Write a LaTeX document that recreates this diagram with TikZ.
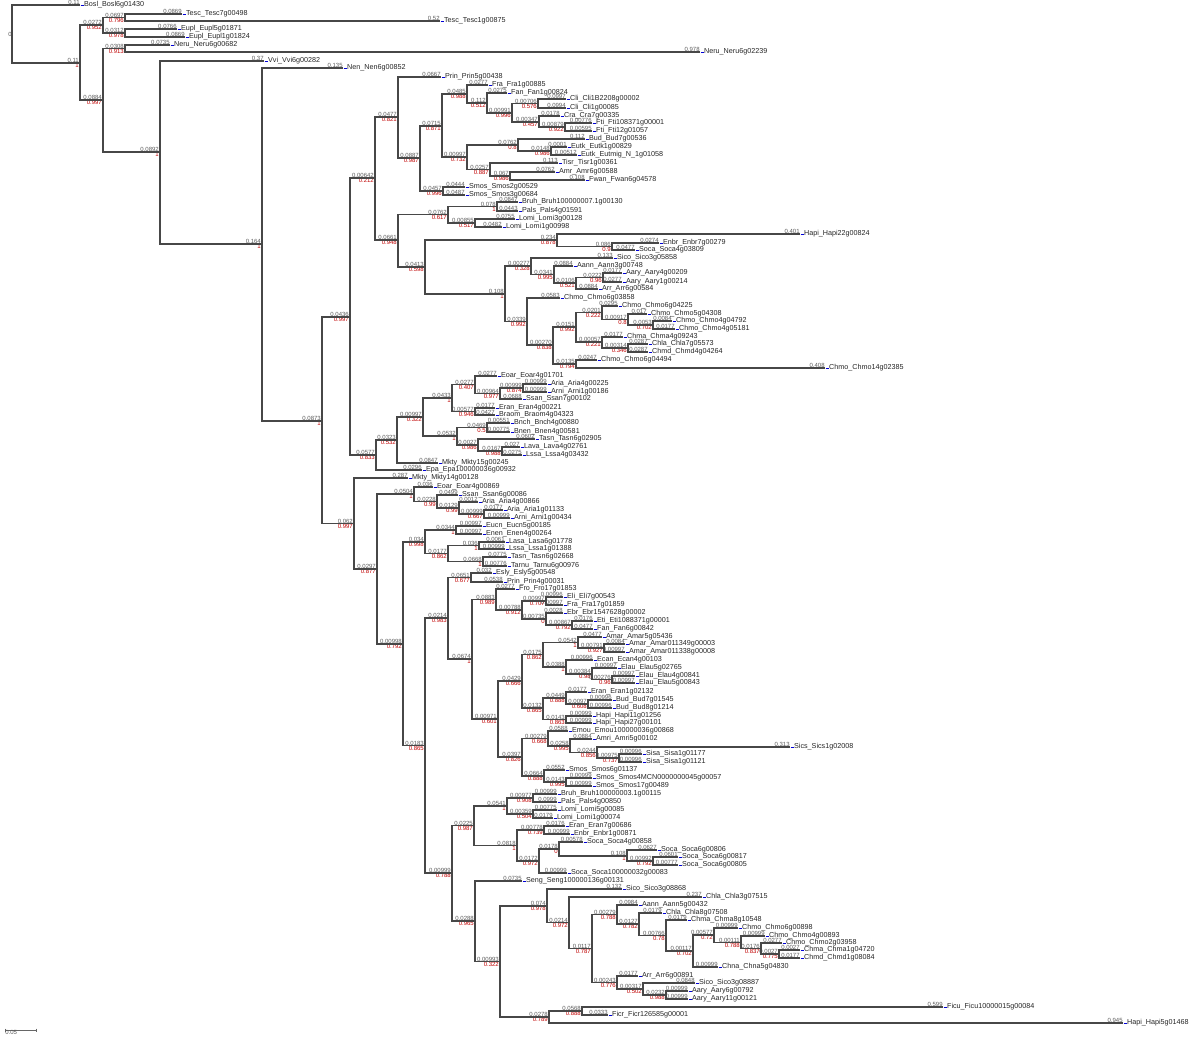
\documentclass[tikz,border=0pt]{standalone}
\usepackage{fontspec}
\setmainfont{Liberation Sans}

\tikzset{
  branch/.style={draw=black!72, line width=1.4pt},
  lenlab/.style={anchor=south east, inner sep=0.2pt, text=black!65, font=\fontsize{6}{6.5}\selectfont},
  suplab/.style={anchor=north east, inner sep=0.2pt, text=red!75!black, font=\fontsize{6}{6.5}\selectfont},
  leaflab/.style={anchor=west, inner sep=0.4pt, text=black!85, font=\fontsize{7.2}{8}\selectfont},
  nodemark/.style={fill=red!80!black}
}
% leaf: name, x, y, branch length, label
\newcommand{\leaf}[5]{\coordinate (#1) at (#2,#3);
  \node[lenlab] (#1-len) at (#1) {#4};
  \node[leaflab] (#1-name) at (#1) {{\color{blue!85!black}\rule[0.3ex]{3pt}{1pt}}\hspace{0.5pt}#5};}
% inner node: name, x, y, branch length, support
\newcommand{\inode}[5]{\coordinate (#1) at (#2,#3);
  \node[lenlab] (#1-len) at ([xshift=-0.8pt]#1) {#4};
  \node[suplab] (#1-sup) at ([xshift=-0.8pt]#1) {#5};
  \fill[nodemark] (#1) circle (0.9);}
% clade: parent, upper child, lower child
\newcommand{\clade}[3]{\draw[branch] (#2) -| (#1) |- (#3);}

\begin{document}
\begin{tikzpicture}[x=1pt,y=-1pt]
\useasboundingbox (0,0) rectangle (1200,1040);

	% leaves
	\leaf{L1}{80}{5}{0.11}{Bosl\_Bosl6g01430}
	\leaf{L2}{182}{14}{0.0869}{Tesc\_Tesc7g00498}
	\leaf{L3}{440}{21}{0.52}{Tesc\_Tesc1g00875}
	\leaf{L4}{177}{29}{0.0766}{Eupl\_Eupl5g01871}
	\leaf{L5}{185}{37}{0.0869}{Eupl\_Eupl1g01824}
	\leaf{L6}{170}{45}{0.0735}{Neru\_Neru6g00682}
	\leaf{L7}{700}{52}{0.978}{Neru\_Neru6g02239}
	\leaf{L8}{264}{61}{0.37}{Vvi\_Vvi6g00282}
	\leaf{L9}{343}{68}{0.135}{Nen\_Nen6g00852}
	\leaf{L10}{441}{77}{0.0667}{Prin\_Prin5g00438}
	\leaf{L11}{488}{85}{0.0277}{Fra\_Fra1g00885}
	\leaf{L12}{507}{93}{0.0275}{Fan\_Fan1g00824}
	\leaf{L13}{566}{99}{0.0997}{Cli\_Cli1B2208g00002}
	\leaf{L14}{566}{108}{0.0994}{Cli\_Cli1g00085}
	\leaf{L15}{560}{116}{0.0178}{Cra\_Cra7g00335}
	\leaf{L16}{592}{123}{0.00776}{Fti\_Fti108371g00001}
	\leaf{L17}{592}{131}{0.00595}{Fti\_Fti12g01057}
	\leaf{L18}{585}{139}{0.112}{Bud\_Bud7g00536}
	\leaf{L19}{567}{147}{0.0001}{Eutk\_Eutk1g00829}
	\leaf{L20}{577}{155}{0.00512}{Eutk\_Eutmig\_N\_1g01058}
	\leaf{L21}{558}{163}{0.113}{Tisr\_Tisr1g00361}
	\leaf{L22}{555}{172}{0.0762}{Amr\_Amr6g00588}
	\leaf{L23}{585}{180}{0.108}{Fwan\_Fwan6g04578}
	\leaf{L24}{465}{187}{0.0444}{Smos\_Smos2g00529}
	\leaf{L25}{465}{195}{0.0487}{Smos\_Smos3g00684}
	\leaf{L26}{518}{202}{0.0847}{Bruh\_Bruh100000007.1g00130}
	\leaf{L27}{518}{211}{0.0443}{Pals\_Pals4g01591}
	\leaf{L28}{515}{219}{0.0755}{Lomi\_Lomi3g00128}
	\leaf{L29}{502}{227}{0.0482}{Lomi\_Lomi1g00998}
	\leaf{L30}{800}{234}{0.401}{Hapi\_Hapi22g00824}
	\leaf{L31}{659}{243}{0.0274}{Enbr\_Enbr7g00279}
	\leaf{L32}{635}{250}{0.0477}{Soca\_Soca4g03809}
	\leaf{L33}{613}{258}{0.133}{Sico\_Sico3g05858}
	\leaf{L34}{573}{266}{0.0884}{Aann\_Aann3g00748}
	\leaf{L35}{622}{273}{0.0177}{Aary\_Aary4g00209}
	\leaf{L36}{622}{282}{0.0277}{Aary\_Aary1g00214}
	\leaf{L37}{598}{289}{0.0884}{Arr\_Arr6g00584}
	\leaf{L38}{560}{298}{0.0583}{Chmo\_Chmo6g03858}
	\leaf{L39}{618}{306}{0.0295}{Chmo\_Chmo6g04225}
	\leaf{L40}{647}{314}{0.017}{Chmo\_Chmo5g04308}
	\leaf{L41}{672}{321}{0.0084}{Chmo\_Chmo4g04792}
	\leaf{L42}{675}{329}{0.0177}{Chmo\_Chmo4g05181}
	\leaf{L43}{623}{337}{0.0177}{Chma\_Chma4g09243}
	\leaf{L44}{648}{344}{0.0287}{Chla\_Chla7g05573}
	\leaf{L45}{648}{352}{0.0287}{Chmd\_Chmd4g04264}
	\leaf{L46}{597}{360}{0.0247}{Chmo\_Chmo6g04494}
	\leaf{L47}{825}{368}{0.408}{Chmo\_Chmo14g02385}
	\leaf{L48}{497}{376}{0.0277}{Eoar\_Eoar4g01701}
	\leaf{L49}{547}{384}{0.00999}{Aria\_Aria4g00225}
	\leaf{L50}{547}{392}{0.00999}{Arni\_Arni1g00186}
	\leaf{L51}{522}{399}{0.0688}{Ssan\_Ssan7g00102}
	\leaf{L52}{495}{408}{0.0177}{Eran\_Eran4g00221}
	\leaf{L53}{495}{415}{0.0427}{Braom\_Braom4g04323}
	\leaf{L54}{510}{423}{0.00551}{Bnch\_Bnch4g00880}
	\leaf{L55}{510}{432}{0.00775}{Bnen\_Bnen4g00581}
	\leaf{L56}{535}{439}{0.0602}{Tasn\_Tasn6g02905}
	\leaf{L57}{520}{447}{0.027}{Lava\_Lava4g02761}
	\leaf{L58}{522}{455}{0.0275}{Lssa\_Lssa4g03432}
	\leaf{L59}{438}{463}{0.0847}{Mkty\_Mkty15g00245}
	\leaf{L60}{422}{470}{0.0296}{Epa\_Epa100000036g00932}
	\leaf{L61}{408}{478}{0.287}{Mkty\_Mkty14g00128}
	\leaf{L62}{433}{487}{0.036}{Eoar\_Eoar4g00869}
	\leaf{L63}{458}{495}{0.0499}{Ssan\_Ssan6g00086}
	\leaf{L64}{478}{502}{0.0012}{Aria\_Aria4g00866}
	\leaf{L65}{503}{510}{0.0177}{Aria\_Aria1g01133}
	\leaf{L66}{510}{518}{0.00999}{Arni\_Arni1g00434}
	\leaf{L67}{482}{526}{0.00997}{Eucn\_Eucn5g00185}
	\leaf{L68}{482}{534}{0.00997}{Enen\_Enen4g00264}
	\leaf{L69}{505}{542}{0.0061}{Lasa\_Lasa6g01778}
	\leaf{L70}{505}{549}{0.00999}{Lssa\_Lssa1g01388}
	\leaf{L71}{507}{557}{0.0775}{Tasn\_Tasn6g02668}
	\leaf{L72}{507}{566}{0.00776}{Tarnu\_Tarnu6g00976}
	\leaf{L73}{492}{573}{0.032}{Esly\_Esly5g00548}
	\leaf{L74}{503}{582}{0.0538}{Prin\_Prin4g00031}
	\leaf{L75}{515}{589}{0.0277}{Fro\_Fro17g01853}
	\leaf{L76}{563}{597}{0.00996}{Eli\_Eli7g00543}
	\leaf{L77}{563}{605}{0.00997}{Fra\_Fra17g01859}
	\leaf{L78}{563}{613}{0.0028}{Ebr\_Ebr1547628g00002}
	\leaf{L79}{593}{621}{0.0176}{Eti\_Eti1088371g00001}
	\leaf{L80}{593}{629}{0.0477}{Fan\_Fan6g00842}
	\leaf{L81}{602}{637}{0.0477}{Amar\_Amar5g05436}
	\leaf{L82}{625}{644}{0.0084}{Amar\_Amar011349g00003}
	\leaf{L83}{625}{652}{0.00997}{Amar\_Amar011338g00008}
	\leaf{L84}{593}{660}{0.00996}{Ecan\_Ecan4g00103}
	\leaf{L85}{617}{668}{0.00997}{Elau\_Elau5g02765}
	\leaf{L86}{635}{676}{0.00997}{Elau\_Elau4g00841}
	\leaf{L87}{635}{683}{0.00997}{Elau\_Elau5g00843}
	\leaf{L88}{587}{692}{0.0177}{Eran\_Eran1g02132}
	\leaf{L89}{612}{700}{0.00996}{Bud\_Bud7g01545}
	\leaf{L90}{612}{708}{0.00996}{Bud\_Bud8g01214}
	\leaf{L91}{592}{716}{0.00999}{Hapi\_Hapi11g01256}
	\leaf{L92}{592}{723}{0.00999}{Hapi\_Hapi27g00101}
	\leaf{L93}{568}{731}{0.0588}{Emou\_Emou100000036g00868}
	\leaf{L94}{592}{739}{0.0884}{Amri\_Amri5g00102}
	\leaf{L95}{790}{747}{0.313}{Sics\_Sics1g02008}
	\leaf{L96}{642}{754}{0.00996}{Sisa\_Sisa1g01177}
	\leaf{L97}{642}{762}{0.00996}{Sisa\_Sisa1g01121}
	\leaf{L98}{565}{770}{0.0552}{Smos\_Smos6g01137}
	\leaf{L99}{592}{778}{0.00999}{Smos\_Smos4MCN0000000045g00057}
	\leaf{L100}{592}{786}{0.00999}{Smos\_Smos17g00489}
	\leaf{L101}{557}{794}{0.00999}{Bruh\_Bruh100000003.1g00115}
	\leaf{L102}{557}{802}{0.0999}{Pals\_Pals4g00850}
	\leaf{L103}{557}{810}{0.00775}{Lomi\_Lomi5g00085}
	\leaf{L104}{553}{818}{0.0179}{Lomi\_Lomi1g00074}
	\leaf{L105}{565}{826}{0.0176}{Eran\_Eran7g00686}
	\leaf{L106}{570}{834}{0.00999}{Enbr\_Enbr1g00871}
	\leaf{L107}{583}{842}{0.00578}{Soca\_Soca4g00858}
	\leaf{L108}{657}{850}{0.0627}{Soca\_Soca6g00806}
	\leaf{L109}{678}{857}{0.0601}{Soca\_Soca6g00817}
	\leaf{L110}{678}{865}{0.00777}{Soca\_Soca6g00805}
	\leaf{L111}{567}{873}{0.00999}{Soca\_Soca100000032g00083}
	\leaf{L112}{522}{881}{0.0735}{Seng\_Seng100000136g00131}
	\leaf{L113}{622}{889}{0.132}{Sico\_Sico3g08868}
	\leaf{L114}{702}{897}{0.237}{Chla\_Chla3g07515}
	\leaf{L115}{638}{905}{0.0984}{Aann\_Aann5g00432}
	\leaf{L116}{662}{913}{0.0179}{Chla\_Chla8g07508}
	\leaf{L117}{687}{920}{0.0179}{Chma\_Chma8g10548}
	\leaf{L118}{738}{928}{0.00999}{Chmo\_Chmo6g00898}
	\leaf{L119}{765}{936}{0.00999}{Chmo\_Chmo4g00893}
	\leaf{L120}{782}{943}{0.0277}{Chmo\_Chmo2g03958}
	\leaf{L121}{800}{950}{0.0027}{Chma\_Chma1g04720}
	\leaf{L122}{800}{958}{0.0177}{Chmd\_Chmd1g08084}
	\leaf{L123}{718}{967}{0.00999}{Chna\_Chna5g04830}
	\leaf{L124}{638}{976}{0.0177}{Arr\_Arr6g00891}
	\leaf{L125}{695}{983}{0.0848}{Sico\_Sico3g08887}
	\leaf{L126}{688}{991}{0.00999}{Aary\_Aary6g00792}
	\leaf{L127}{688}{999}{0.00999}{Aary\_Aary11g00121}
	\leaf{L128}{943}{1007}{0.599}{Ficu\_Ficu10000015g00084}
	\leaf{L129}{608}{1015}{0.0333}{Ficr\_Ficr126585g00001}
	\leaf{L130}{1123}{1023}{0.945}{Hapi\_Hapi5g01468}

	% inner nodes
	\coordinate (R) at (12,34);
	\node[lenlab, anchor=east] (R-len) at (R) {0};
	\inode{A}{80}{63}{0.11}{1}
	\inode{B}{103}{25}{0.0272}{0.952}
	\inode{B1}{125}{17.5}{0.0697}{0.796}
	\inode{B2}{125}{33}{0.0312}{0.978}
	\inode{C}{103}{100}{0.0884}{0.997}
	\inode{C1}{125}{48.5}{0.0308}{0.913}
	\inode{D}{160}{152}{0.0892}{1}
	\inode{E}{262}{244}{0.164}{1}
	\inode{F}{322}{421}{0.0873}{1}
	\inode{G}{350}{317}{0.0436}{0.997}
	\inode{G1}{375}{178}{0.00642}{0.212}
	\inode{G1a}{398}{117}{0.0477}{0.821}
	\inode{G1a2}{420}{158}{0.0887}{0.987}
	\inode{N0}{442}{126}{0.0715}{0.871}
	\inode{N1}{467}{94}{0.0485}{0.988}
	\inode{N2}{487}{103}{0.112}{0.512}
	\inode{N4}{512}{113}{0.00991}{0.996}
	\inode{N5}{538}{103.5}{0.00706}{0.576}
	\inode{N6}{539}{122}{0.00347}{0.457}
	\inode{N7}{565}{127}{0.00879}{0.922}
	\inode{N8}{467}{157}{0.00997}{0.732}
	\inode{N9}{518}{145}{0.0762}{0.8}
	\inode{N10}{551}{151}{0.0148}{0.986}
	\inode{N11}{490}{169.5}{0.0257}{0.887}
	\inode{N12}{510}{176}{0.067}{0.986}
	\inode{N13}{443}{191}{0.0457}{0.996}
	\inode{G1b}{398}{240}{0.0661}{0.948}
	\inode{P1}{448}{214.5}{0.0762}{0.617}
	\inode{P2}{497}{206.5}{0.078}{1}
	\inode{P3}{475}{223}{0.00855}{0.517}
	\inode{Q}{425}{267}{0.0413}{0.598}
	\inode{Q1}{557}{240}{0.234}{0.878}
	\inode{Q2}{612}{246.5}{0.086}{0.9}
	\inode{Q3}{505}{294}{0.108}{1}
	\inode{Q4}{531}{266}{0.00277}{0.328}
	\inode{Q5}{554}{274.5}{0.0341}{0.995}
	\inode{Q6}{576}{283}{0.0106}{0.521}
	\inode{Q7}{603}{277.5}{0.0222}{0.96}
	\inode{Q8}{527}{321.5}{0.0339}{0.992}
	\inode{Q9}{553}{345}{0.00270}{0.838}
	\inode{Q10}{576}{327}{0.0151}{0.992}
	\inode{Q11}{602}{312.5}{0.0201}{0.222}
	\inode{Q12}{628}{319.5}{0.00917}{0.8}
	\inode{Q13}{653}{325}{0.0053}{0.702}
	\inode{Q14}{602}{342}{0.00057}{0.221}
	\inode{Q15}{628}{348}{0.00314}{0.346}
	\inode{Q16}{576}{364}{0.0135}{0.794}
	\inode{G2}{376}{455}{0.0577}{0.833}
	\inode{S}{397}{440}{0.0323}{0.532}
	\inode{S1}{423}{417}{0.00997}{0.322}
	\inode{S2}{452}{398}{0.0433}{1}
	\inode{S4}{475}{384.5}{0.0277}{0.407}
	\inode{S6}{500}{393.5}{0.00964}{0.977}
	\inode{S7}{523}{388}{0.00999}{0.874}
	\inode{S5}{475}{411.5}{0.00577}{0.946}
	\inode{S3}{457}{436}{0.0532}{1}
	\inode{S8}{487}{427.5}{0.0469}{0.5}
	\inode{S9}{478}{445}{0.0027}{0.986}
	\inode{S10}{502}{451}{0.0167}{0.988}
	\inode{H}{354}{523.5}{0.062}{0.997}
	\inode{H1}{377}{569}{0.0297}{0.877}
	\inode{T}{414}{494}{0.0504}{1}
	\inode{T1}{437}{501.5}{0.0228}{0.99}
	\inode{T2}{459}{508}{0.0129}{0.99}
	\inode{T3}{484}{514}{0.00999}{0.667}
	\inode{U}{403}{644}{0.00998}{0.792}
	\inode{U1}{425}{542}{0.034}{0.998}
	\inode{U2}{456}{530}{0.0344}{1}
	\inode{U3}{448}{553.5}{0.0177}{0.862}
	\inode{U4}{479}{545.5}{0.036}{1}
	\inode{U5}{483}{561.5}{0.0668}{1}
	\inode{V}{425}{745.5}{0.0183}{0.865}
	\inode{V1}{448}{618}{0.0214}{0.983}
	\inode{V2}{471}{577.5}{0.0651}{0.677}
	\inode{V3}{472}{659}{0.0674}{1}
	\inode{V4}{496}{599.5}{0.0883}{0.989}
	\inode{V6}{522}{610}{0.00788}{0.912}
	\inode{V7}{546}{601}{0.00997}{0.707}
	\inode{V8}{546}{619}{0.00735}{0}
	\inode{V9}{572}{625}{0.00867}{0.792}
	\inode{V5}{498}{719}{0.00971}{0.601}
	\inode{W}{522}{681}{0.0429}{0.666}
	\inode{W0}{543}{654.5}{0.0175}{0.862}
	\inode{W1}{578}{642.5}{0.0542}{1}
	\inode{W2}{604}{648}{0.00791}{0.927}
	\inode{W3}{566}{667}{0.0388}{1}
	\inode{W4}{592}{674}{0.00384}{0.98}
	\inode{W5}{612}{679.5}{0.00276}{0.96}
	\inode{YZ}{543}{708}{0.0132}{0.865}
	\inode{Y}{566}{698}{0.0449}{0.888}
	\inode{Y1}{588}{704}{0.0097}{0.608}
	\inode{Z}{566}{719.5}{0.0143}{0.863}
	\inode{X}{522}{757}{0.0397}{0.826}
	\inode{X1}{548}{738.5}{0.00279}{0.668}
	\inode{X2}{570}{746}{0.0258}{0.995}
	\inode{X3}{597}{752.5}{0.0244}{0.856}
	\inode{X4}{619}{758}{0.00975}{0.737}
	\inode{X5}{544}{776}{0.0664}{0.888}
	\inode{X6}{566}{782}{0.0143}{0.995}
	\inode{VV}{452}{873}{0.00999}{0.788}
	\inode{AA}{474}{825.5}{0.0225}{0.987}
	\inode{AB}{507}{806}{0.0541}{1}
	\inode{AC}{533}{798}{0.00977}{0.908}
	\inode{AD}{533}{814}{0.00359}{0.504}
	\inode{AE}{517}{845.5}{0.0818}{1}
	\inode{AF}{544}{830}{0.00778}{0.739}
	\inode{AG}{539}{861}{0.0172}{0.972}
	\inode{AH}{559}{849}{0.0178}{0}
	\inode{AI}{627}{856}{0.108}{1}
	\inode{AJ}{653}{861}{0.00992}{0.792}
	\inode{BB}{475}{921}{0.0288}{0.965}
	\inode{CC}{500}{961.5}{0.00993}{0.322}
	\inode{DD}{547}{906}{0.074}{0.978}
	\inode{FF}{569}{922.5}{0.0214}{0.972}
	\inode{GG}{592}{948.5}{0.0117}{0.787}
	\inode{HH}{617}{914.5}{0.00279}{0.788}
	\inode{II}{639}{924}{0.0127}{0.782}
	\inode{JJ}{666}{935.5}{0.00766}{0.78}
	\inode{KK}{693}{951}{0.00117}{0.702}
	\inode{LL}{714}{935}{0.00577}{0.72}
	\inode{MM}{741}{942.5}{0.00111}{0.788}
	\inode{NN}{761}{948.5}{0.0176}{0.837}
	\inode{OO}{779}{954}{0.0027}{0.775}
	\inode{PP}{617}{982.5}{0.00243}{0.776}
	\inode{QQ}{643}{989}{0.00317}{0.502}
	\inode{RR}{666}{995}{0.0232}{0.988}
	\inode{EE}{549}{1017}{0.0278}{0.789}
	\inode{SS}{582}{1011}{0.0568}{0.888}

	% branches
	\clade{R}{L1}{A}
	\clade{A}{B}{C}
	\clade{B}{B1}{B2}
	\clade{B1}{L2}{L3}
	\clade{B2}{L4}{L5}
	\clade{C}{C1}{D}
	\clade{C1}{L6}{L7}
	\clade{D}{L8}{E}
	\clade{E}{L9}{F}
	\clade{F}{G}{H}
	\clade{G}{G1}{G2}
	\clade{G1}{G1a}{G1b}
	\clade{G1a}{L10}{G1a2}
	\clade{G1a2}{N0}{N13}
	\clade{N0}{N1}{N8}
	\clade{N1}{L11}{N2}
	\clade{N2}{L12}{N4}
	\clade{N4}{N5}{N6}
	\clade{N5}{L13}{L14}
	\clade{N6}{L15}{N7}
	\clade{N7}{L16}{L17}
	\clade{N8}{N9}{N11}
	\clade{N9}{L18}{N10}
	\clade{N10}{L19}{L20}
	\clade{N11}{L21}{N12}
	\clade{N12}{L22}{L23}
	\clade{N13}{L24}{L25}
	\clade{G1b}{P1}{Q}
	\clade{P1}{P2}{P3}
	\clade{P2}{L26}{L27}
	\clade{P3}{L28}{L29}
	\clade{Q}{Q1}{Q3}
	\clade{Q1}{L30}{Q2}
	\clade{Q2}{L31}{L32}
	\clade{Q3}{Q4}{Q8}
	\clade{Q4}{L33}{Q5}
	\clade{Q5}{L34}{Q6}
	\clade{Q6}{Q7}{L37}
	\clade{Q7}{L35}{L36}
	\clade{Q8}{L38}{Q9}
	\clade{Q9}{Q10}{Q16}
	\clade{Q10}{Q11}{Q14}
	\clade{Q11}{L39}{Q12}
	\clade{Q12}{L40}{Q13}
	\clade{Q13}{L41}{L42}
	\clade{Q14}{L43}{Q15}
	\clade{Q15}{L44}{L45}
	\clade{Q16}{L46}{L47}
	\clade{G2}{S}{L60}
	\clade{S}{S1}{L59}
	\clade{S1}{S2}{S3}
	\clade{S2}{S4}{S5}
	\clade{S4}{L48}{S6}
	\clade{S6}{S7}{L51}
	\clade{S7}{L49}{L50}
	\clade{S5}{L52}{L53}
	\clade{S3}{S8}{S9}
	\clade{S8}{L54}{L55}
	\clade{S9}{L56}{S10}
	\clade{S10}{L57}{L58}
	\clade{H}{L61}{H1}
	\clade{H1}{T}{U}
	\clade{T}{L62}{T1}
	\clade{T1}{L63}{T2}
	\clade{T2}{L64}{T3}
	\clade{T3}{L65}{L66}
	\clade{U}{U1}{V}
	\clade{U1}{U2}{U3}
	\clade{U2}{L67}{L68}
	\clade{U3}{U4}{U5}
	\clade{U4}{L69}{L70}
	\clade{U5}{L71}{L72}
	\clade{V}{V1}{VV}
	\clade{V1}{V2}{V3}
	\clade{V2}{L73}{L74}
	\clade{V3}{V4}{V5}
	\clade{V4}{L75}{V6}
	\clade{V6}{V7}{V8}
	\clade{V7}{L76}{L77}
	\clade{V8}{L78}{V9}
	\clade{V9}{L79}{L80}
	\clade{V5}{W}{X}
	\clade{W}{W0}{YZ}
	\clade{W0}{W1}{W3}
	\clade{W1}{L81}{W2}
	\clade{W2}{L82}{L83}
	\clade{W3}{L84}{W4}
	\clade{W4}{L85}{W5}
	\clade{W5}{L86}{L87}
	\clade{YZ}{Y}{Z}
	\clade{Y}{L88}{Y1}
	\clade{Y1}{L89}{L90}
	\clade{Z}{L91}{L92}
	\clade{X}{X1}{X5}
	\clade{X1}{L93}{X2}
	\clade{X2}{L94}{X3}
	\clade{X3}{L95}{X4}
	\clade{X4}{L96}{L97}
	\clade{X5}{L98}{X6}
	\clade{X6}{L99}{L100}
	\clade{VV}{AA}{BB}
	\clade{AA}{AB}{AE}
	\clade{AB}{AC}{AD}
	\clade{AC}{L101}{L102}
	\clade{AD}{L103}{L104}
	\clade{AE}{AF}{AG}
	\clade{AF}{L105}{L106}
	\clade{AG}{AH}{L111}
	\clade{AH}{L107}{AI}
	\clade{AI}{L108}{AJ}
	\clade{AJ}{L109}{L110}
	\clade{BB}{L112}{CC}
	\clade{CC}{DD}{EE}
	\clade{DD}{L113}{FF}
	\clade{FF}{L114}{GG}
	\clade{GG}{HH}{PP}
	\clade{HH}{L115}{II}
	\clade{II}{L116}{JJ}
	\clade{JJ}{L117}{KK}
	\clade{KK}{LL}{L123}
	\clade{LL}{L118}{MM}
	\clade{MM}{L119}{NN}
	\clade{NN}{L120}{OO}
	\clade{OO}{L121}{L122}
	\clade{PP}{L124}{QQ}
	\clade{QQ}{L125}{RR}
	\clade{RR}{L126}{L127}
	\clade{EE}{SS}{L130}
	\clade{SS}{L128}{L129}

	% scale bar
	\coordinate (sb1) at (5,1030);
	\coordinate (sb2) at (36,1030);
	\draw[black!60, line width=0.8pt] (sb1) -- (sb2);
	\draw[black!60, line width=0.8pt] (sb1) ++(0,-1.5) -- ++(0,3);
	\draw[black!60, line width=0.8pt] (sb2) ++(0,-1.5) -- ++(0,3);
	\node[lenlab, anchor=north west] (sb-len) at (sb1) {0.05};

\end{tikzpicture}
\end{document}
